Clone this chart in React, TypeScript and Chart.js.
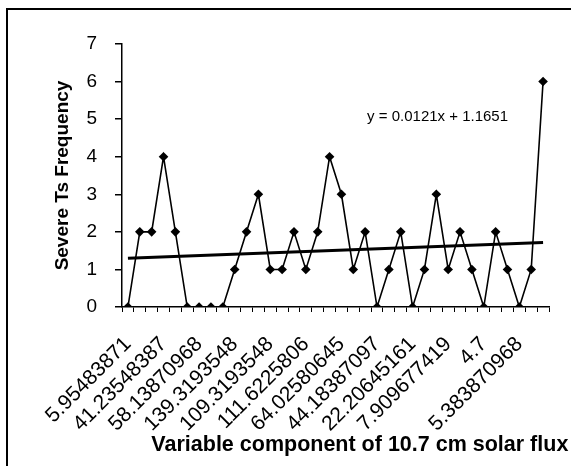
import React, { useEffect, useRef } from "react";
import { Chart, registerables } from "chart.js";

Chart.register(...registerables);

const tickLabels: string[] = [
  "5.95483871", "41.23548387", "58.13870968", "139.3193548",
  "109.3193548", "111.6225806", "64.02580645", "44.18387097",
  "22.20645161", "7.909677419", "4.7", "5.383870968",
];
const frequency: number[] = [
  0, 2, 2, 4, 2, 0, 0, 0, 0, 1, 2, 3, 1, 1, 2, 1, 2, 4,
  3, 1, 2, 0, 1, 2, 0, 1, 3, 1, 2, 1, 0, 2, 1, 0, 1, 6,
];
const trendEnds: number[] = [1.3, 1.72];
const equationText = "y = 0.0121x + 1.1651";
const xTitle = "Variable component of 10.7 cm solar flux";
const yTitle = "Severe Ts Frequency";
const labelEvery = 3;

const categories: string[] = frequency.map((_, i) =>
  i % labelEvery === 0 ? tickLabels[i / labelEvery] ?? "" : ""
);
const trendData: (number | null)[] = frequency.map((_, i) =>
  i === 0 ? trendEnds[0] : i === frequency.length - 1 ? trendEnds[1] : null
);

const FONT = "'Liberation Sans', Arial, sans-serif";

const framePlugin = {
  id: "frame",
  beforeDraw(chart: any) {
    const ctx = chart.ctx;
    ctx.save();
    ctx.fillStyle = "#fff";
    ctx.fillRect(0, 0, chart.width, chart.height);
    ctx.strokeStyle = "#000";
    ctx.lineWidth = 2;
    ctx.strokeRect(7, 9, chart.width + 20, chart.height + 20);
    ctx.restore();
  },
};

const textPlugin = {
  id: "texts",
  afterDatasetsDraw(chart: any) {
    const { ctx, chartArea, scales } = chart;
    const w = chartArea.right - chartArea.left;
    ctx.save();
    ctx.fillStyle = "#000";
    ctx.textAlign = "left";
    ctx.textBaseline = "middle";
    ctx.font = `15px ${FONT}`;
    ctx.fillText(equationText, chartArea.left + 0.574 * w, scales.y.getPixelForValue(5.06));
    ctx.font = `bold 21.5px ${FONT}`;
    ctx.textAlign = "center";
    ctx.textBaseline = "alphabetic";
    ctx.fillText(xTitle, chartArea.left + 0.557 * w, 451);
    ctx.restore();
  },
};

export default function App() {
  const ref = useRef<HTMLCanvasElement | null>(null);
  useEffect(() => {
    if (!ref.current) return;
    const chart = new Chart(ref.current, {
      type: "line",
      data: {
        labels: categories,
        datasets: [
          {
            data: frequency,
            borderColor: "#000",
            backgroundColor: "#000",
            borderWidth: 1.6,
            pointStyle: "rectRot",
            pointRadius: 4.8,
            pointBackgroundColor: "#000",
            pointBorderColor: "#000",
            pointBorderWidth: 0,
            tension: 0,
          },
          {
            data: trendData,
            borderColor: "#000",
            borderWidth: 3,
            pointRadius: 0,
            spanGaps: true,
            tension: 0,
          },
        ],
      },
      options: {
        responsive: false,
        animation: false,
        devicePixelRatio: 1,
        layout: { padding: { left: 47, top: 44, right: 22, bottom: 0 } },
        plugins: {
          legend: { display: false },
          tooltip: { enabled: false },
          title: { display: false },
        },
        scales: {
          x: {
            type: "category",
            offset: true,
            grid: {
              offset: true,
              drawOnChartArea: false,
              drawTicks: true,
              tickLength: 5,
              color: "#000",
              lineWidth: 1,
            },
            border: { display: true, color: "#000", width: 1.5 },
            ticks: {
              autoSkip: false,
              maxRotation: 45,
              minRotation: 45,
              color: "#000",
              padding: 20,
              font: { family: FONT, size: 21 },
            },
            afterFit: (s: any) => {
              s.height = 466 - 307;
              s.paddingLeft = 0;
              s.paddingRight = 0;
            },
          },
          y: {
            min: 0,
            max: 7,
            grid: {
              drawOnChartArea: false,
              drawTicks: true,
              tickLength: 7,
              color: "#000",
              lineWidth: 1.5,
            },
            border: { display: true, color: "#000", width: 1.5 },
            ticks: {
              stepSize: 1,
              color: "#000",
              padding: 18,
              font: { family: FONT, size: 19 },
            },
            title: {
              display: true,
              text: yTitle,
              color: "#000",
              font: { family: FONT, size: 19, weight: "bold" },
              padding: { top: 4, bottom: 4 },
            },
            afterFit: (s: any) => {
              s.width = 122 - 47;
              s.paddingTop = 0;
              s.paddingBottom = 0;
            },
          },
        },
      },
      plugins: [framePlugin, textPlugin],
    } as any);
    return () => chart.destroy();
  }, []);
  return (
    <div style={{ position: "fixed", left: 0, top: 0, width: 571, height: 466, overflow: "hidden" }}>
      <canvas ref={ref} width={571} height={466} style={{ display: "block" }} />
    </div>
  );
}
